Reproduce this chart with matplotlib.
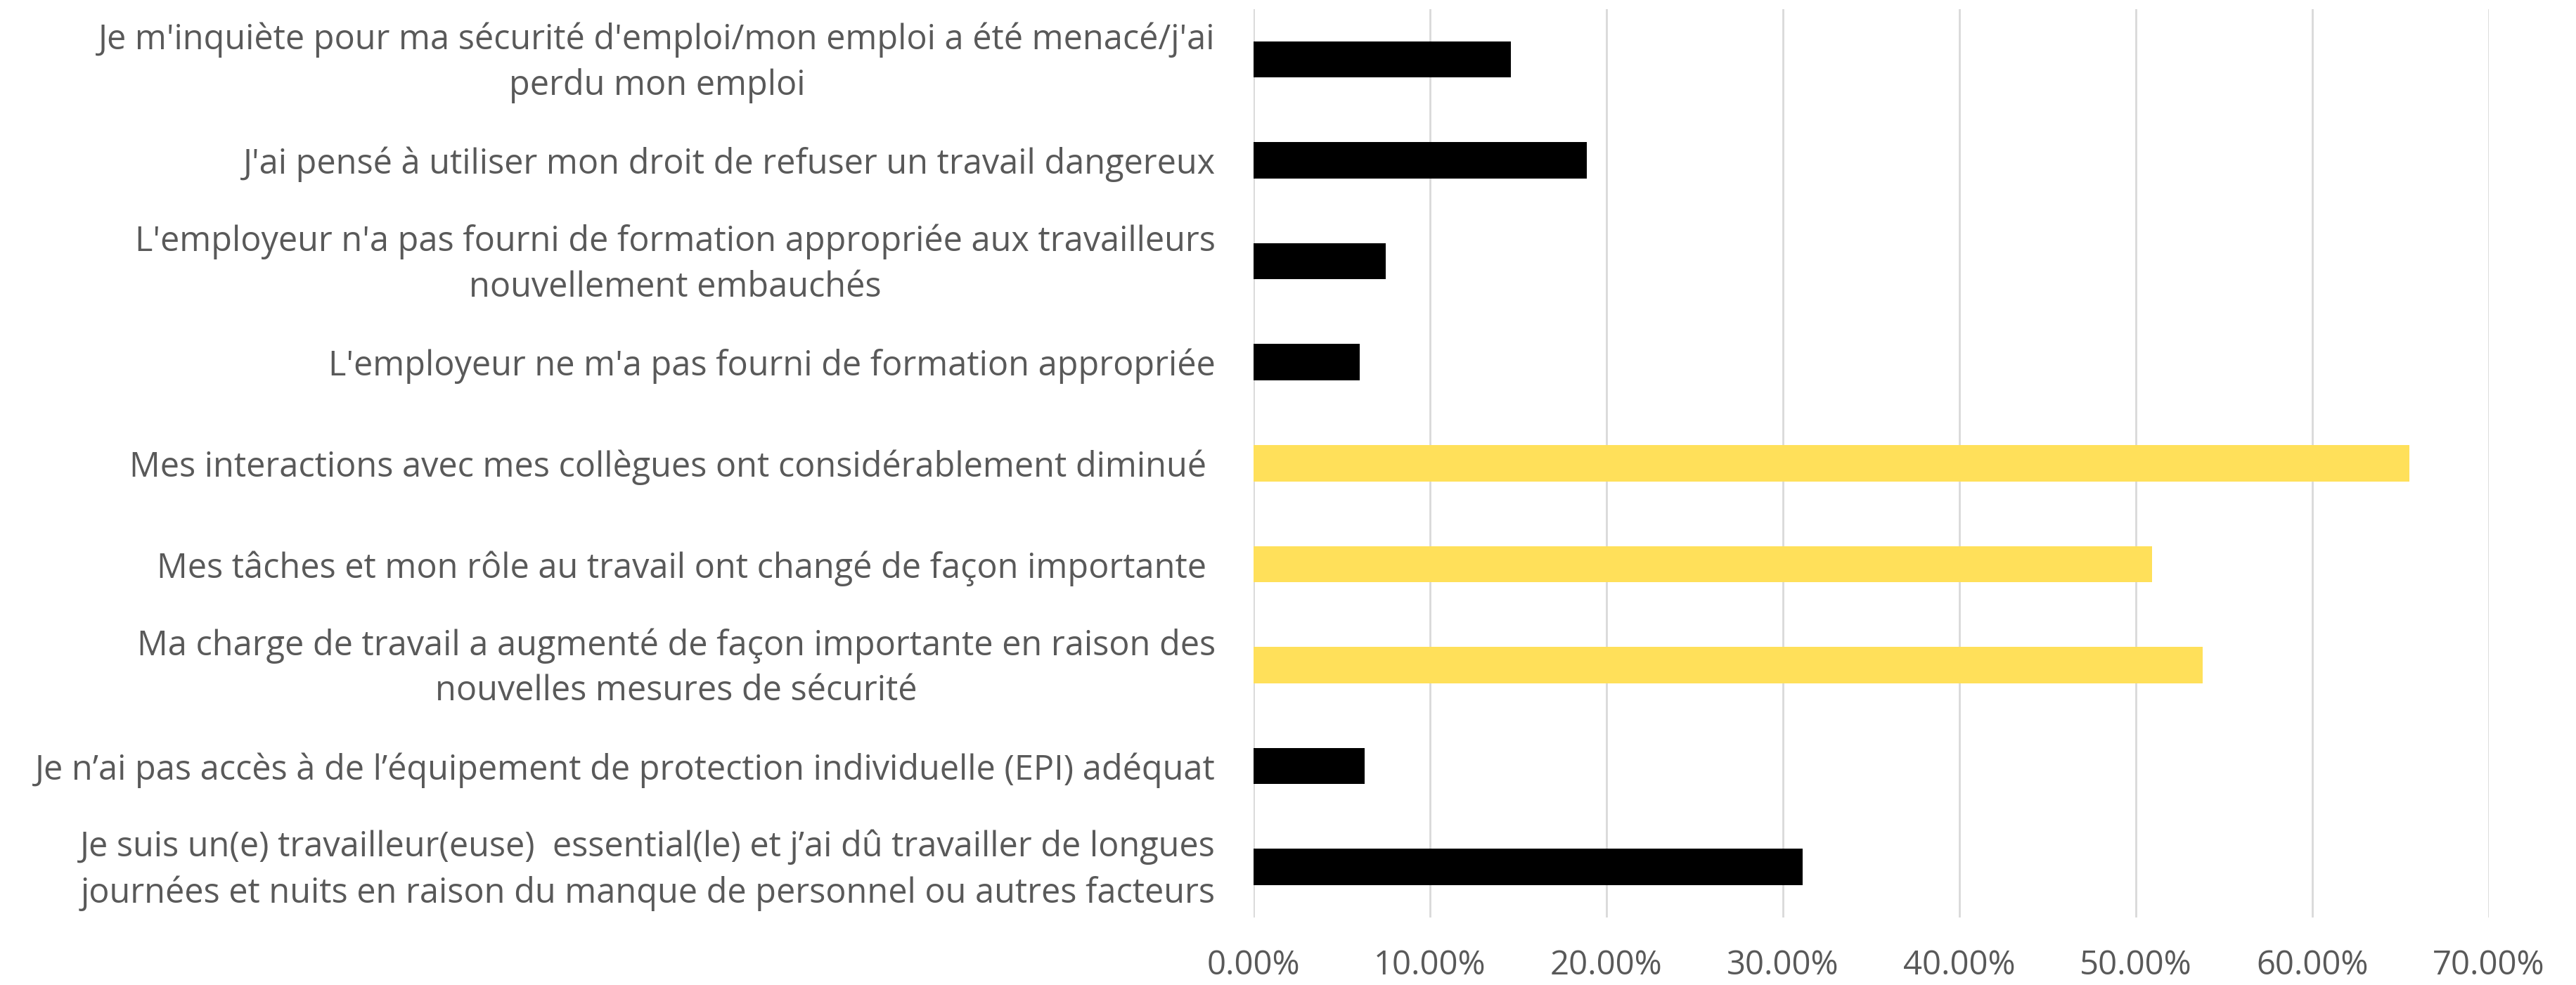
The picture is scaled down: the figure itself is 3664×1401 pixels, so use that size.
import matplotlib.pyplot as plt
from matplotlib.ticker import FuncFormatter, MultipleLocator
from matplotlib.transforms import ScaledTranslation

labels = [
    "Je m'inquiète pour ma sécurité d'emploi/mon emploi a été menacé/j'ai\nperdu mon emploi",
    "J'ai pensé à utiliser mon droit de refuser un travail dangereux",
    "L'employeur n'a pas fourni de formation appropriée aux travailleurs\nnouvellement embauchés",
    "L'employeur ne m'a pas fourni de formation appropriée",
    "Mes interactions avec mes collègues ont considérablement diminué ",
    "Mes tâches et mon rôle au travail ont changé de façon importante ",
    "Ma charge de travail a augmenté de façon importante en raison des\nnouvelles mesures de sécurité",
    "Je n\u2019ai pas accès à de l\u2019équipement de protection individuelle (EPI) adéquat",
    "Je suis un(e) travailleur(euse)  essential(le) et j\u2019ai dû travailler de longues\njournées et nuits en raison du manque de personnel ou autres facteurs",
]
values = [0.146, 0.189, 0.075, 0.060, 0.655, 0.509, 0.538, 0.063, 0.311]
highlight = [False, False, False, False, True, True, True, False, False]

black = '#000000'
yellow = '#FFE05A'
text_col = '#595959'
colors = [yellow if h else black for h in highlight]

plt.rcParams['font.family'] = ['Open Sans', 'DejaVu Sans']

fig = plt.figure(figsize=(36.64, 14.01), dpi=100)
ax = fig.add_axes([0.4866, 0.0685, 0.9662 - 0.4866, 0.991 - 0.0685])

pos = list(range(len(labels)))
ax.barh(pos, values, height=0.36, color=colors, zorder=3)

ax.set_ylim(len(labels) - 0.5, -0.5)
ax.set_xlim(0, 0.70)
ax.xaxis.set_major_locator(MultipleLocator(0.10))
ax.xaxis.set_major_formatter(FuncFormatter(lambda v, p: f'{v * 100:.2f}%'))

ax.set_yticks(pos)
ax.set_yticklabels(labels, multialignment='center', linespacing=1.4)
ax.tick_params(axis='y', length=0, pad=39, labelsize=35, labelcolor=text_col)
ax.tick_params(axis='x', length=0, pad=32, labelsize=34, labelcolor=text_col)

# two-line labels sit a little low, nudge them up
nudge = ScaledTranslation(0, 0.09, fig.dpi_scale_trans)
for t in ax.get_yticklabels():
    if '\n' in t.get_text():
        t.set_transform(t.get_transform() + nudge)

ax.grid(axis='x', color='#D9D9D9', linewidth=2, zorder=0)
for s in ax.spines.values():
    s.set_visible(False)

fig.savefig('out.png', dpi=100)
